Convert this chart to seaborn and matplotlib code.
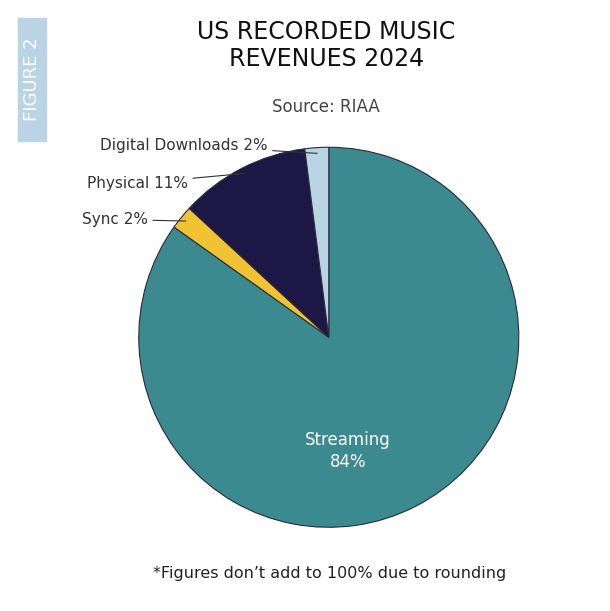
import numpy as np
import matplotlib
matplotlib.use("Agg")
import matplotlib.pyplot as plt
import seaborn as sns

sns.set_style("white")

segments = ["Streaming", "Sync", "Physical", "Digital Downloads"]
shares = [84, 2, 11, 2]
colors = ["#3b8a8f", "#f1c232", "#1d1745", "#b9d4e4"]

fig = plt.figure(figsize=(6.10, 6.11), dpi=100)
ax = fig.add_axes([0.2275, 0.137, 0.623, 0.622])
wedges, _ = ax.pie(shares, colors=colors, startangle=90, counterclock=False,
                   wedgeprops=dict(edgecolor="#2a2a3a", linewidth=0.8))
ax.set_aspect("equal")
ax.set_xlim(-1, 1)
ax.set_ylim(-1, 1)

# Streaming label inside
ax.text(0.1, -0.6, f"{segments[0]}\n{shares[0]}%", color="white", fontsize=12,
        ha="center", va="center", linespacing=1.3)

# outside labels with leader lines: (label x, label y, anchor radius)
label_pos = {1: (-0.95, 0.62), 2: (-0.74, 0.81), 3: (-0.32, 1.01)}
for i, (tx, ty) in label_pos.items():
    w = wedges[i]
    mid = np.deg2rad((w.theta1 + w.theta2) / 2)
    x, y = 0.97 * np.cos(mid), 0.97 * np.sin(mid)
    ax.annotate(f"{segments[i]} {shares[i]}%", xy=(x, y),
                xytext=(tx, ty), ha="right", va="center",
                fontsize=11, color="#333333", annotation_clip=False,
                arrowprops=dict(arrowstyle="-", color="#333333", lw=0.8,
                                shrinkA=1, shrinkB=0))

fig.text(0.535, 0.925, "US RECORDED MUSIC\nREVENUES 2024", ha="center", va="center",
         fontsize=17, color="#111111", linespacing=1.15)
fig.text(0.535, 0.825, "Source: RIAA", ha="center", va="center", fontsize=12, color="#444444")
fig.text(0.54, 0.062, "*Figures don\u2019t add to 100% due to rounding", ha="center",
         va="center", fontsize=11.5, color="#222222")

fig.patches.append(plt.Rectangle((0.03, 0.77), 0.046, 0.2, transform=fig.transFigure,
                                 color="#b9d4e4", zorder=0))
fig.text(0.053, 0.87, "FIGURE 2", rotation=90, ha="center", va="center",
         fontsize=13, color="white")

fig.savefig("out.png", dpi=100)
